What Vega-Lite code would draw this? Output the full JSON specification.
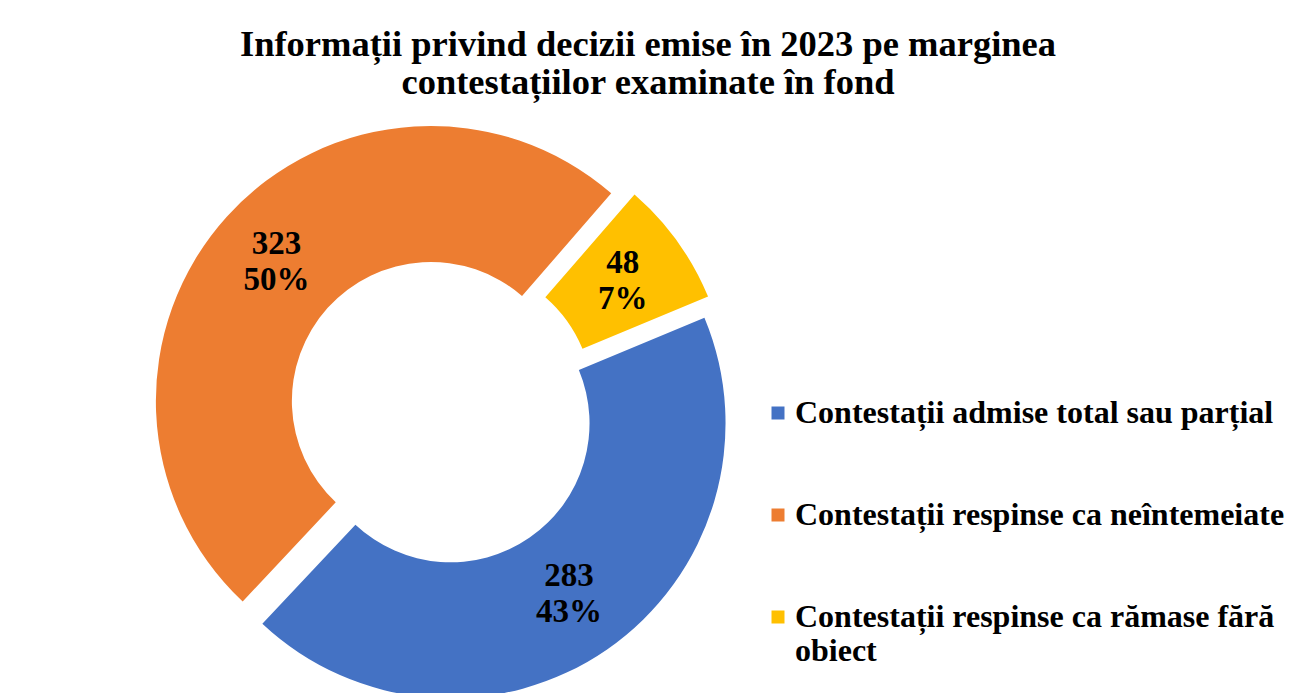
{
  "$schema": "https://vega.github.io/schema/vega-lite/v6.json",
  "width": 884,
  "height": 564,
  "autosize": {"type": "none"},
  "padding": {"left": 0, "top": 129, "right": 412, "bottom": 0},
  "background": "white",
  "config": {"view": {"stroke": null}},
  "title": {
    "text": ["Informații privind decizii emise în 2023 pe marginea", "contestațiilor examinate în fond"],
    "font": "Liberation Serif",
    "fontSize": 36.5,
    "fontWeight": "bold",
    "color": "black",
    "anchor": "middle",
    "dx": 206,
    "offset": 24,
    "lineHeight": 38
  },
  "data": {
    "values": [
      {"category": "Contestații admise total sau parțial", "value": 283, "pct": "43%"},
      {"category": "Contestații respinse ca neîntemeiate", "value": 323, "pct": "50%"},
      {"category": "Contestații respinse ca rămase fără obiect", "value": 48, "pct": "7%"}
    ]
  },
  "encoding": {
    "theta": {"field": "value", "type": "quantitative", "stack": true, "scale": {"range": [1.1764, 7.4596]}},
    "order": {"field": "category", "type": "nominal", "sort": "ascending"}
  },
  "layer": [
    {
      "mark": {
        "type": "arc",
        "outerRadius": 275,
        "innerRadius": 139,
        "xOffset": {"expr": "15*sin((scale('theta', datum.value_start)+scale('theta', datum.value_end))/2)"},
        "yOffset": {"expr": "-15*cos((scale('theta', datum.value_start)+scale('theta', datum.value_end))/2)"}
      },
      "encoding": {
        "color": {
          "field": "category",
          "type": "nominal",
          "scale": {
            "domain": ["Contestații admise total sau parțial", "Contestații respinse ca neîntemeiate", "Contestații respinse ca rămase fără obiect"],
            "range": ["#4472C4", "#ED7D31", "#FFC000"]
          },
          "legend": {
            "title": null,
            "orient": "none",
            "legendX": 762,
            "legendY": 268,
            "padding": 0,
            "symbolType": "square",
            "symbolSize": 169,
            "symbolStrokeWidth": 0,
            "labelFont": "Liberation Serif",
            "labelFontSize": 32,
            "labelFontWeight": "bold",
            "labelColor": "black",
            "labelLimit": 700,
            "labelOffset": 1,
            "rowPadding": 70,
            "labelExpr": "datum.label == 'Contestații respinse ca rămase fără obiect' ? ['Contestații respinse ca rămase fără', 'obiect'] : datum.label"
          }
        }
      }
    },
    {
      "mark": {
        "type": "text",
        "radius": 208,
        "dy": -18,
        "font": "Liberation Serif",
        "fontSize": 33,
        "fontWeight": "bold",
        "xOffset": {"expr": "15*sin((scale('theta', datum.value_start)+scale('theta', datum.value_end))/2)"},
        "yOffset": {"expr": "-15*cos((scale('theta', datum.value_start)+scale('theta', datum.value_end))/2)"}
      },
      "encoding": {
        "detail": {"field": "category", "type": "nominal"},
        "text": {"field": "value", "type": "quantitative"},
        "color": {"value": "black"}
      }
    },
    {
      "mark": {
        "type": "text",
        "radius": 208,
        "dy": 18,
        "font": "Liberation Serif",
        "fontSize": 33,
        "fontWeight": "bold",
        "xOffset": {"expr": "15*sin((scale('theta', datum.value_start)+scale('theta', datum.value_end))/2)"},
        "yOffset": {"expr": "-15*cos((scale('theta', datum.value_start)+scale('theta', datum.value_end))/2)"}
      },
      "encoding": {
        "detail": {"field": "category", "type": "nominal"},
        "text": {"field": "pct", "type": "nominal"},
        "color": {"value": "black"}
      }
    }
  ]
}
